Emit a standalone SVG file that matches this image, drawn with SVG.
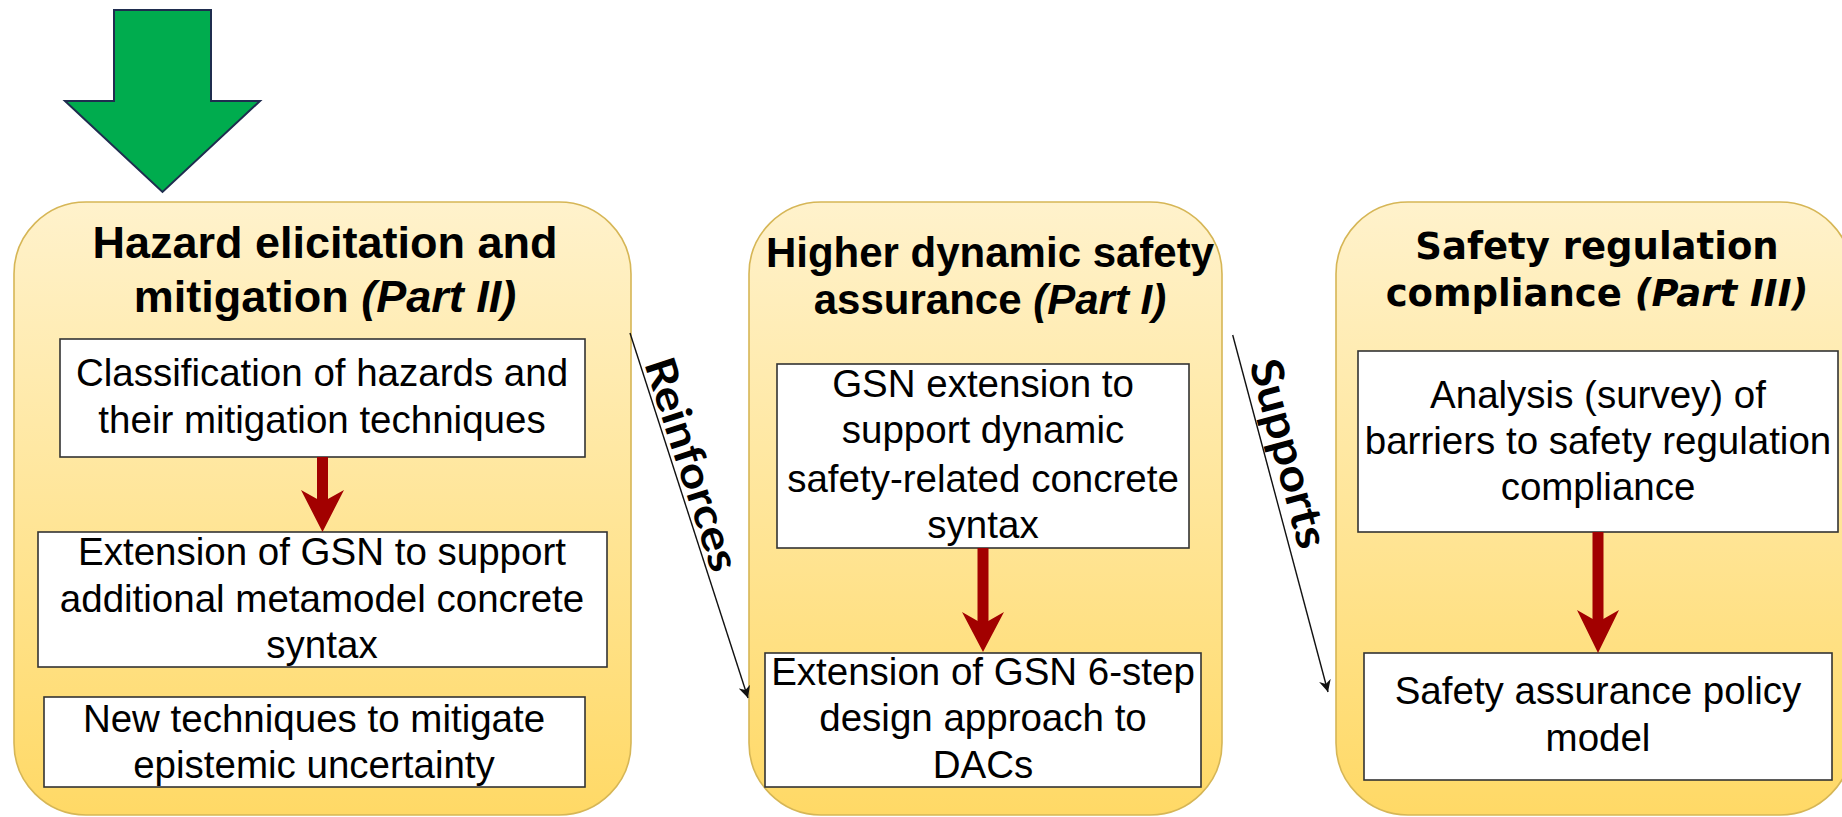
<svg xmlns="http://www.w3.org/2000/svg" width="1842" height="817" viewBox="0 0 1842 817">
  <defs>
    <linearGradient id="panelFill" x1="0" y1="0" x2="0" y2="1">
      <stop offset="0" stop-color="#FFF2CC"/>
      <stop offset="1" stop-color="#FFD966"/>
    </linearGradient>
    <marker id="thinHead" viewBox="0 0 10 10" refX="10" refY="5" markerWidth="12" markerHeight="12" markerUnits="userSpaceOnUse" orient="auto">
      <path d="M0,0 L10,5 L0,10 L3,5 Z" fill="#111"/>
    </marker>
  </defs>
  <style>
    .panel { fill: url(#panelFill); stroke: #D6B656; stroke-width: 1.6; }
    .box { fill: #FFFFFF; stroke: #333333; stroke-width: 1.6; }
    .title { font-family: "Liberation Sans", Arial, sans-serif; font-weight: bold; fill: #000; text-anchor: middle; }
    .title3 { font-family: "DejaVu Sans", Verdana, sans-serif; font-weight: bold; fill: #000; text-anchor: middle; font-size: 37px; }
    .body { font-family: "Liberation Sans", Arial, sans-serif; font-size: 38.5px; fill: #000; text-anchor: middle; }
    .link { fill: none; stroke: #111; stroke-width: 1.4; }
    .linkLabel { font-family: Lato, "Open Sans", sans-serif; font-weight: bold; fill: #000; text-anchor: middle; }
    .flow { fill: none; stroke: #A20000; stroke-width: 11; }
    .flowHead { fill: #A20000; }
  </style>

  <!-- entry arrow -->
  <g id="entry-arrow">
    <path d="M114,10 L211,10 L211,101 L260,101 L162.5,192 L65,101 L114,101 Z" fill="#00AC4E" stroke="#1F2D4F" stroke-width="2" stroke-linejoin="miter"/>
  </g>

  <!-- Part II panel -->
  <g id="panel-hazard">
    <rect class="panel" x="14" y="202" width="617" height="613" rx="72" ry="72"/>
    <text class="title" font-size="45" x="325" y="258">Hazard elicitation and</text>
    <text class="title" font-size="45" x="325" y="312">mitigation <tspan font-style="italic">(Part II)</tspan></text>
  </g>
  <g id="box-classification">
    <rect class="box" x="60" y="339" width="525" height="118"/>
    <text class="body" x="322" y="386">Classification of hazards and</text>
    <text class="body" x="322" y="433">their mitigation techniques</text>
  </g>
  <g id="box-gsn-metamodel">
    <rect class="box" x="38" y="532" width="569" height="135"/>
    <text class="body" x="322" y="565">Extension of GSN to support</text>
    <text class="body" x="322" y="612">additional metamodel concrete</text>
    <text class="body" x="322" y="658">syntax</text>
  </g>
  <g id="box-epistemic">
    <rect class="box" x="44" y="697" width="541" height="90"/>
    <text class="body" x="314" y="732">New techniques to mitigate</text>
    <text class="body" x="314" y="778">epistemic uncertainty</text>
  </g>

  <!-- Part I panel -->
  <g id="panel-dynamic">
    <rect class="panel" x="749" y="202" width="473" height="613" rx="72" ry="72"/>
    <text class="title" font-size="42" x="990" y="267">Higher dynamic safety</text>
    <text class="title" font-size="42" x="990" y="314">assurance <tspan font-style="italic">(Part I)</tspan></text>
  </g>
  <g id="box-gsn-dynamic">
    <rect class="box" x="777" y="364" width="412" height="184"/>
    <text class="body" x="983" y="397">GSN extension to</text>
    <text class="body" x="983" y="443">support dynamic</text>
    <text class="body" x="983" y="492">safety-related concrete</text>
    <text class="body" x="983" y="538">syntax</text>
  </g>
  <g id="box-six-step">
    <rect class="box" x="765" y="653" width="436" height="134"/>
    <text class="body" x="983" y="685">Extension of GSN 6-step</text>
    <text class="body" x="983" y="731">design approach to</text>
    <text class="body" x="983" y="778">DACs</text>
  </g>

  <!-- Part III panel -->
  <g id="panel-compliance">
    <rect class="panel" x="1336" y="202" width="516" height="613" rx="72" ry="72"/>
    <text class="title3" x="1597" y="259">Safety regulation</text>
    <text class="title3" x="1597" y="306">compliance <tspan font-style="italic">(Part III)</tspan></text>
  </g>
  <g id="box-barriers">
    <rect class="box" x="1358" y="351" width="480" height="181"/>
    <text class="body" x="1598" y="408">Analysis (survey) of</text>
    <text class="body" x="1598" y="454">barriers to safety regulation</text>
    <text class="body" x="1598" y="500">compliance</text>
  </g>
  <g id="box-policy">
    <rect class="box" x="1364" y="653" width="468" height="127"/>
    <text class="body" x="1598" y="704">Safety assurance policy</text>
    <text class="body" x="1598" y="751">model</text>
  </g>

  <!-- connectors -->
  <g id="connectors">
    <!-- flow inside each part -->
    <line class="flow" x1="322.5" y1="457" x2="322.5" y2="502"/>
    <path class="flowHead" d="M301,490 L322.5,502 L344,490 L322.5,532 Z"/>
    <line class="flow" x1="983" y1="548" x2="983" y2="624"/>
    <path class="flowHead" d="M962,612 L983,624 L1004,612 L983,652 Z"/>
    <line class="flow" x1="1598" y1="532" x2="1598" y2="622"/>
    <path class="flowHead" d="M1577,610 L1598,622 L1619,610 L1598,653 Z"/>

    <!-- relations between parts -->
    <line class="link" x1="630" y1="333" x2="748" y2="698" marker-end="url(#thinHead)"/>
    <text class="linkLabel" font-size="42" textLength="222" lengthAdjust="spacingAndGlyphs" transform="translate(678.1,468.8) rotate(72.08)">Reinforces</text>
    <line class="link" x1="1232.7" y1="335" x2="1328" y2="692" marker-end="url(#thinHead)"/>
    <text class="linkLabel" font-size="44" textLength="194" lengthAdjust="spacingAndGlyphs" transform="translate(1274.2,457.4) rotate(75.05)">Supports</text>
  </g>
</svg>
